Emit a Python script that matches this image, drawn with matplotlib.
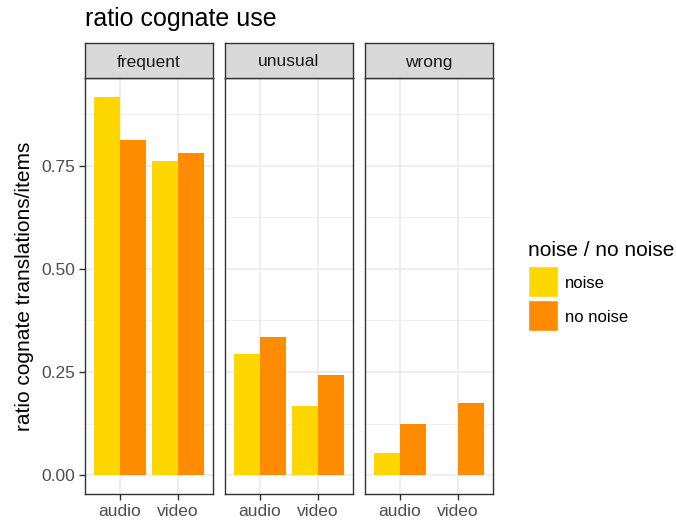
import numpy as np
import matplotlib
matplotlib.use("Agg")
import matplotlib.pyplot as plt
from matplotlib.patches import Rectangle

plt.rcParams['font.family'] = ['Liberation Sans', 'DejaVu Sans']

# data
facets = ["frequent", "unusual", "wrong"]
modes = ["audio", "video"]
groups = ["noise", "no noise"]
colors = ["#FFD700", "#FF8C00"]
noise_vals = {"frequent": [0.917, 0.762], "unusual": [0.293, 0.167], "wrong": [0.053, 0.0]}
no_noise_vals = {"frequent": [0.813, 0.781], "unusual": [0.334, 0.242], "wrong": [0.123, 0.174]}

W, H = 676, 522
fig = plt.figure(figsize=(W / 100, H / 100), dpi=100)

def px_axes(x0, y0, x1, y1):
    return fig.add_axes([x0 / W, 1 - y1 / H, (x1 - x0) / W, (y1 - y0) / H])

ymax = 0.917
ylo, yhi = -0.05 * ymax, 1.05 * ymax
panel_x = [(85, 213), (225, 353), (365, 493)]
top, strip_top, bottom = 78, 43, 494

for i, f in enumerate(facets):
    x0, x1 = panel_x[i]
    ax = px_axes(x0, top, x1, bottom)
    x = np.arange(1, len(modes) + 1)
    ax.bar(x - 0.225, noise_vals[f], width=0.45, color=colors[0], zorder=3)
    ax.bar(x + 0.225, no_noise_vals[f], width=0.45, color=colors[1], zorder=3)
    ax.set_xlim(0.4, 2.6)
    ax.set_ylim(ylo, yhi)
    ax.set_xticks(x)
    ax.set_xticklabels(modes)
    ax.set_yticks([0, 0.25, 0.5, 0.75])
    ax.set_yticks([0.125, 0.375, 0.625, 0.875], minor=True)
    ax.grid(True, which="major", color="#EBEBEB", lw=1.1, zorder=0)
    ax.grid(True, which="minor", axis="y", color="#EBEBEB", lw=0.55, zorder=0)
    ax.tick_params(which="minor", length=0)
    ax.tick_params(which="major", length=4, width=1, color="#333333",
                   labelcolor="#4D4D4D", labelsize=12.5, pad=3)
    if i == 0:
        ax.set_yticklabels(["0.00", "0.25", "0.50", "0.75"])
        ax.set_ylabel("ratio cognate translations/items", fontsize=15, labelpad=5)
    else:
        ax.tick_params(axis="y", left=False, labelleft=False)
    for s in ax.spines.values():
        s.set_color("#333333")
        s.set_linewidth(1)

    sax = px_axes(x0, strip_top, x1, top)
    sax.set_xticks([])
    sax.set_yticks([])
    sax.set_facecolor("#D9D9D9")
    for s in sax.spines.values():
        s.set_color("#333333")
        s.set_linewidth(1)
    sax.text(0.5, 0.5, f, ha="center", va="center_baseline", fontsize=12.5,
             color="#1A1A1A", transform=sax.transAxes)

fig.text(85 / W, 1 - 19 / H, "ratio cognate use", fontsize=18, ha="left", va="center")

# legend
fig.text(528 / W, 1 - 250 / H, "noise / no noise", fontsize=15, ha="left", va="center")
for j, (g, c) in enumerate(zip(groups, colors)):
    yk = 266 + j * 34
    fig.patches.append(Rectangle((528 / W, 1 - (yk + 31) / H), 30 / W, 31 / H,
                                 transform=fig.transFigure, facecolor=c,
                                 edgecolor="white", lw=1))
    fig.text(565 / W, 1 - (yk + 16) / H, g, fontsize=12, ha="left", va="center_baseline")

fig.savefig("out.png", dpi=100)
